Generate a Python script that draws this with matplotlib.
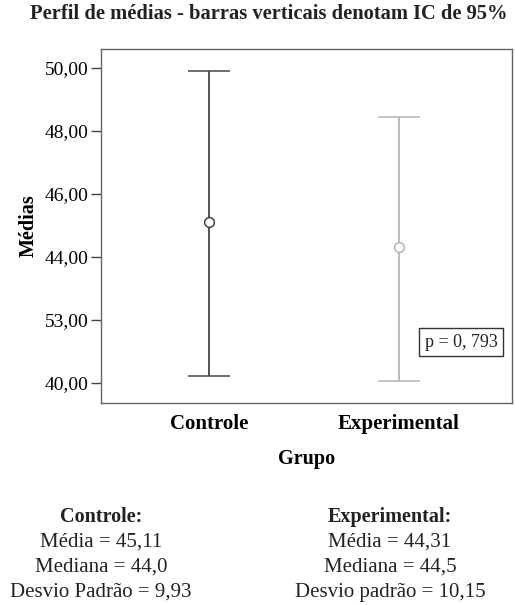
import matplotlib.pyplot as plt

# data
groups = ["Controle", "Experimental"]
means = [45.11, 44.31]
ci_low = [40.23, 40.05]
ci_high = [49.91, 48.43]
colors = ["#444444", "#b4b4b4"]
yticks = [40, 42, 44, 46, 48, 50]
ytick_labels = ["40,00", "53,00", "44,00", "46,00", "48,00", "50,00"]
p_text = "p = 0, 793"
stats = {
    "Controle": ["Média = 45,11", "Mediana = 44,0", "Desvio Padrão = 9,93"],
    "Experimental": ["Média = 44,31", "Mediana = 44,5", "Desvio padrão = 10,15"],
}

plt.rcParams['font.family'] = ['Liberation Serif', 'DejaVu Serif']
plt.rcParams['text.color'] = '#222222'

fig = plt.figure(figsize=(5.15, 6.05), dpi=100)
ax = fig.add_axes([0.196, 0.334, 0.798, 0.585])

for i, g in enumerate(groups):
    lo = means[i] - ci_low[i]
    hi = ci_high[i] - means[i]
    ax.errorbar(i, means[i], yerr=[[lo], [hi]], fmt='o', mfc='white', mec=colors[i],
                ms=7, mew=1.1, ecolor=colors[i], elinewidth=1.3, capsize=15, capthick=1.3,
                color=colors[i])

ax.set_xlim(-0.568, 1.595)
ax.set_ylim(39.37, 50.6)
ax.set_yticks(yticks)
ax.set_yticklabels(ytick_labels, fontsize=14)
ax.set_xticks(range(len(groups)))
ax.set_xticklabels(groups, fontsize=15, fontweight='bold')
ax.tick_params(axis='x', length=0, pad=8)
ax.tick_params(axis='y', length=7, width=1, color='#444444', pad=2)
for s in ax.spines.values():
    s.set_color('#666666')
    s.set_linewidth(1)

ax.set_ylabel("Médias", fontsize=14.5, fontweight='bold', labelpad=4)
ax.set_xlabel("Grupo", fontsize=14.5, fontweight='bold', labelpad=11)

ax.text(0.965, 0.172, p_text, transform=ax.transAxes, ha='right', va='center', fontsize=13,
        bbox=dict(boxstyle='square,pad=0.3', fc='white', ec='#333333', lw=1))

fig.text(0.522, 0.977, "Perfil de médias - barras verticais denotam IC de 95%",
         ha='center', va='center', fontsize=14.8, fontweight='bold')

for x, g in zip([0.196, 0.757], groups):
    fig.text(x, 0.146, g + ":", ha='center', va='center', fontsize=14.5, fontweight='bold')
    for j, line in enumerate(stats[g]):
        fig.text(x, 0.104 - j * 0.0413, line, ha='center', va='center', fontsize=15)

fig.savefig("out.png", dpi=100)
